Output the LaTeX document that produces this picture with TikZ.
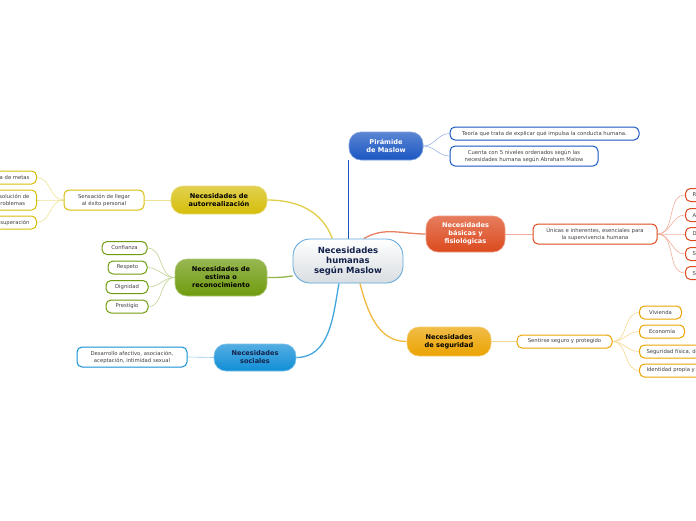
\documentclass[tikz,border=0pt]{standalone}
\usepackage{fontspec}
\setmainfont{DejaVu Sans}
\usetikzlibrary{backgrounds}

\definecolor{hubline}{HTML}{5AA6DC}
\definecolor{hubgray}{HTML}{D8DDE1}
\definecolor{navy}{HTML}{14224A}
\definecolor{azul}{HTML}{1A56C2}
\definecolor{rojo}{HTML}{DC4A1E}
\definecolor{oro}{HTML}{EBA300}
\definecolor{cielo}{HTML}{118ED6}
\definecolor{verde}{HTML}{6F9B0E}
\definecolor{amarillo}{HTML}{D6BE0A}

\begin{document}
\begin{tikzpicture}[x=1pt,y=-1pt,
  hub/.style={draw=hubline,line width=0.8pt,top color=white,bottom color=hubgray,
    rounded corners=17pt,minimum width=110pt,minimum height=44pt,inner sep=1pt,
    align=center,text=navy,font=\bfseries\fontsize{8.5}{10}\selectfont},
  topic/.style={draw=#1!55!white,line width=0.6pt,top color=#1!72!white,bottom color=#1,
    rounded corners=12pt,inner sep=1pt,align=center,font=\bfseries\fontsize{6.6}{8}\selectfont},
  leaf/.style={draw=#1,fill=white,line width=1pt,rounded corners=5pt,minimum height=13pt,
    inner xsep=7pt,inner ysep=1.5pt,align=center,text=black!75,font=\fontsize{5.3}{7}\selectfont},
  branch/.style={draw=#1,line width=1.3pt},
  twig/.style={draw=#1!45!white,line width=0.6pt}]
\useasboundingbox (0,0) rectangle (696,520);

% centro
\node[hub] (c) at (348,261) {Necesidades\\humanas\\según Maslow};

% piramide
\node[topic=azul,text=white,minimum width=74pt,minimum height=28pt] (p) at (386,146) {Pirámide\\de Maslow};
\node[leaf=azul,minimum width=189pt] (p1) at (544.5,133.5) {Teoría que trata de explicar qué impulsa la conducta humana.};
\node[leaf=azul,minimum width=148pt,minimum height=20pt] (p2) at (524,156) {Cuenta con 5 niveles ordenados según las\\necesidades humana según Abraham Malow};

% basicas
\node[topic=rojo,text=white,minimum width=79pt,minimum height=36pt] (b) at (465.5,234) {Necesidades\\básicas y\\fisiológicas};
\node[leaf=rojo,minimum width=124pt,minimum height=20pt] (b1) at (595,234) {Únicas e inherentes, esenciales para\\la supervivencia humana};
\node[leaf=rojo,anchor=west] (b2) at (685,195) {Respiración};
\node[leaf=rojo,anchor=west] (b3) at (685,215) {Alimentación};
\node[leaf=rojo,anchor=west] (b4) at (685,234) {Descanso};
\node[leaf=rojo,anchor=west] (b5) at (685,254) {Sexo};
\node[leaf=rojo,anchor=west] (b6) at (685,273) {Sueño};

% seguridad
\node[topic=oro,text=black,minimum width=84pt,minimum height=29pt] (g) at (449,341.5) {Necesidades\\de seguridad};
\node[leaf=oro,minimum width=95pt] (g1) at (564.5,341.5) {Sentirse seguro y protegido};
\node[leaf=oro,anchor=west,minimum width=42pt] (g2) at (639,312.5) {Vivienda};
\node[leaf=oro,anchor=west,minimum width=45pt] (g3) at (639,331.5) {Economía};
\node[leaf=oro,anchor=west] (g4) at (639,351.5) {Seguridad física, de empleo};
\node[leaf=oro,anchor=west] (g5) at (639,370.5) {Identidad propia y familiar};

% sociales
\node[topic=cielo,text=navy,minimum width=82pt,minimum height=27pt] (s) at (255,357.5) {Necesidades\\sociales};
\node[leaf=cielo,minimum width=110pt,minimum height=20pt] (s1) at (132,357) {Desarrollo afectivo, asociación,\\aceptación, intimidad sexual};

% estima
\node[topic=verde,text=black,minimum width=92pt,minimum height=37pt] (e) at (221,277.5) {Necesidades de\\estima o\\reconocimiento};
\node[leaf=verde,minimum width=45pt] (e1) at (124.5,248) {Confianza};
\node[leaf=verde,minimum width=39pt] (e2) at (127.5,267.5) {Respeto};
\node[leaf=verde,minimum width=42pt] (e3) at (127,287) {Dignidad};
\node[leaf=verde,minimum width=42pt] (e4) at (127,306.5) {Prestigio};

% autorrealizacion
\node[topic=amarillo,text=black,minimum width=96pt,minimum height=28pt] (a) at (219,200) {Necesidades de\\autorrealización};
\node[leaf=amarillo,minimum width=80pt,minimum height=20pt] (a1) at (104,200) {Sensación de llegar\\al éxito personal};
\node[leaf=amarillo,anchor=east] (a2) at (37,177.5) {Búsqueda de metas};
\node[leaf=amarillo,anchor=east,minimum height=20pt] (a3) at (37,200) {Resolución de\\problemas};
\node[leaf=amarillo,anchor=east] (a4) at (37,222.5) {Autosuperación};

\begin{scope}[on background layer]
\draw[branch=azul] (c.north -| p.west) -- (p.west |- p.south);
\draw[branch=rojo!70!white] (c.55) to[out=30,in=180] (b.west);
\draw[branch=oro!75!white] (c.-62) to[out=-75,in=180] (g.west);
\draw[branch=cielo!80!white] (c.-112) to[out=-100,in=0] (s.east);
\draw[branch=verde!75!white] (c.195) to[out=190,in=0] (e.east);
\draw[branch=amarillo!75!white] (c.125) to[out=110,in=0] (a.east);

\draw[twig=azul] (p.east) to[out=0,in=180] (p1.west);
\draw[twig=azul] (p.east) to[out=0,in=180] (p2.west);
\draw[twig=rojo] (b.east) -- (b1.west);
\foreach \k in {b2,b3,b4,b5,b6}
  \draw[twig=rojo] (b1.east) to[out=0,in=180] (\k.west);
\draw[twig=oro] (g.east) -- (g1.west);
\foreach \k in {g2,g3,g4,g5}
  \draw[twig=oro] (g1.east) to[out=0,in=180] (\k.west);
\draw[twig=cielo] (s.west) -- (s1.east);
\foreach \k in {e1,e2,e3,e4}
  \draw[twig=verde] (e.west) to[out=180,in=0] (\k.east);
\draw[twig=amarillo] (a.west) -- (a1.east);
\foreach \k in {a2,a3,a4}
  \draw[twig=amarillo] (a1.west) to[out=180,in=0] (\k.east);
\end{scope}
\end{tikzpicture}
\end{document}
